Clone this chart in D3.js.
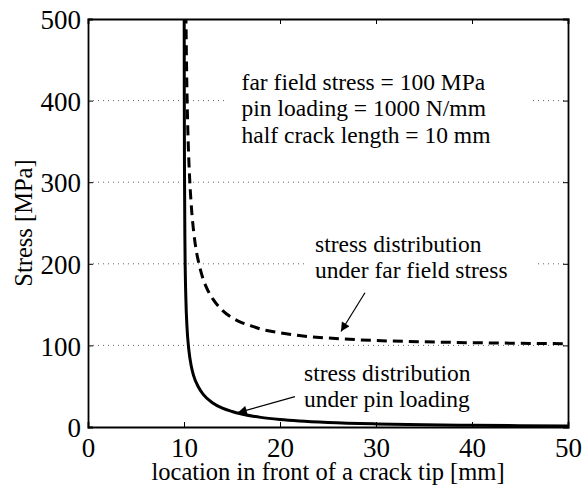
<!DOCTYPE html>
<html>
<head>
<meta charset="utf-8">
<script src="https://cdn.jsdelivr.net/npm/d3@7"></script>
<style>
  body { margin: 0; background: #fff; }
  text { font-family: "Liberation Serif", "Times New Roman", serif; fill: #000; }
</style>
</head>
<body>
<svg id="grafica"></svg>
<script>
// Esfuerzo delante de la punta de una grieta
const svg_w = 583;
const svg_h = 488;
const margin = {l:88, r:15, t:19, b:61};
const viz_w = svg_w - margin.l - margin.r;
const viz_h = svg_h - margin.t - margin.b;

// datos
const x_ticks = [0, 10, 20, 30, 40, 50];
const y_ticks = [0, 100, 200, 300, 400, 500];
const grid_y = [100, 200, 300, 400];

// esfuerzo bajo carga lejana (línea discontinua)
const far_x = [10.2, 10.25, 10.3, 10.4, 10.5, 10.6, 10.8, 11, 11.25, 11.5, 12, 12.5, 13, 14, 15, 16, 17, 18, 20, 22, 25, 28, 30, 35, 40, 45, 50];
const far_y = [507, 456, 417, 364, 328, 302, 265, 240, 218, 203, 181, 167, 157, 143, 134, 128, 124, 120, 115.5, 112, 109, 107, 106, 104.4, 103.3, 102.6, 102.1];

// esfuerzo bajo carga de pasador (línea continua)
const pin_x = [10.02, 10.03, 10.05, 10.1, 10.2, 10.3, 10.5, 10.75, 11, 11.5, 12, 13, 14, 15, 16, 18, 20, 22, 25, 30, 35, 40, 45, 50];
const pin_y = [502, 409, 316, 222, 155, 125, 95, 75, 63, 49, 40, 29.5, 23, 19, 16, 11.8, 9.2, 7.4, 5.6, 3.8, 2.7, 2.1, 1.6, 1.3];

const info_lines = ["far field stress = 100 MPa", "pin loading = 1000 N/mm", "half crack length = 10 mm"];
const far_label = ["stress distribution", "under far field stress"];
const pin_label = ["stress distribution", "under pin loading"];

let svg = d3.select("#grafica")
  .attr("width", svg_w)
  .attr("height", svg_h)

let x_scale = d3.scaleLinear().domain([0, 50]).range([0, viz_w]);
let y_scale = d3.scaleLinear().domain([0, 500]).range([viz_h, 0]);

let g = svg.append("g")
  .attr("transform", `translate(${margin.l},${margin.t})`)

svg.append("defs").append("clipPath").attr("id", "recorte")
  .append("rect").attr("width", viz_w).attr("height", viz_h)

svg.select("defs").append("marker")
  .attr("id", "flecha")
  .attr("viewBox", "0 0 10 10")
  .attr("refX", 10).attr("refY", 5)
  .attr("markerWidth", 11).attr("markerHeight", 9)
  .attr("markerUnits", "userSpaceOnUse")
  .attr("orient", "auto")
  .append("path").attr("d", "M0,0 L10,5 L0,10 z").attr("fill", "#000")

// rejilla horizontal punteada
g.append("g")
  .selectAll("line")
  .data(grid_y)
  .enter().append("line")
  .attr("x1", 0).attr("x2", viz_w)
  .attr("y1", d => y_scale(d)).attr("y2", d => y_scale(d))
  .attr("stroke", "#666")
  .attr("stroke-width", 1)
  .attr("stroke-dasharray", "1,4")

// recuadros blancos detrás de los textos
function text_block(lines, x, y, boxed, padl, padr) {
  let grp = g.append("g");
  let t = grp.append("text")
    .attr("x", x_scale(x)).attr("y", y_scale(y))
    .attr("font-size", 23.5)
  t.selectAll("tspan").data(lines).enter().append("tspan")
    .attr("x", x_scale(x))
    .attr("dy", (d, i) => i == 0 ? 0 : 26.5)
    .text(d => d)
  if (boxed) {
    let bb = t.node().getBBox();
    grp.insert("rect", "text")
      .attr("x", bb.x - padl).attr("y", bb.y - 4)
      .attr("width", bb.width + padl + padr).attr("height", bb.height + 8)
      .attr("fill", "#fff")
  }
}

text_block(info_lines, 16.0, 413.5, true, 14, 42);
text_block(far_label, 23.65, 214.5, true, 10, 30);

// curvas
let line = d3.line()
  .x(d => x_scale(d[0]))
  .y(d => y_scale(d[1]))
  .curve(d3.curveMonotoneX)

let curvas = g.append("g").attr("clip-path", "url(#recorte)")

curvas.append("path")
  .datum(far_x.map((d, i) => [d, far_y[i]]))
  .attr("d", line)
  .attr("fill", "none")
  .attr("stroke", "#000")
  .attr("stroke-width", 3)
  .attr("stroke-dasharray", "10,6")

curvas.append("path")
  .datum(pin_x.map((d, i) => [d, pin_y[i]]))
  .attr("d", line)
  .attr("fill", "none")
  .attr("stroke", "#000")
  .attr("stroke-width", 3)

text_block(pin_label, 22.5, 56.8, false, 0, 0);

// flechas
const arrows = [
  {x1: 28.85, y1: 164.5, x2: 26.35, y2: 117},
  {x1: 21.56, y1: 37.2, x2: 15.6, y2: 17.6}
];
g.append("g")
  .selectAll("line")
  .data(arrows)
  .enter().append("line")
  .attr("x1", d => x_scale(d.x1)).attr("y1", d => y_scale(d.y1))
  .attr("x2", d => x_scale(d.x2)).attr("y2", d => y_scale(d.y2))
  .attr("stroke", "#000")
  .attr("stroke-width", 1.2)
  .attr("marker-end", "url(#flecha)")

// ejes
let ax_b = g.append("g")
  .attr("transform", `translate(0,${viz_h})`)
  .call(d3.axisBottom(x_scale).tickValues(x_ticks).tickSize(-5).tickPadding(11))
let ax_l = g.append("g")
  .call(d3.axisLeft(y_scale).tickValues(y_ticks).tickSize(-5).tickPadding(7))
let ax_t = g.append("g")
  .call(d3.axisTop(x_scale).tickValues(x_ticks).tickSize(-5).tickFormat(""))
let ax_r = g.append("g")
  .attr("transform", `translate(${viz_w},0)`)
  .call(d3.axisRight(y_scale).tickValues(y_ticks).tickSize(-5).tickFormat(""))

for (let ax of [ax_b, ax_l, ax_t, ax_r]) {
  ax.select(".domain").attr("stroke", "#000").attr("stroke-width", 1.8)
  ax.selectAll(".tick line").attr("stroke", "#000").attr("stroke-width", 1)
  ax.selectAll(".tick text")
    .attr("font-family", "Liberation Serif, Times New Roman, serif")
    .attr("font-size", 27)
    .attr("fill", "#000")
}
ax_l.selectAll(".tick text").attr("dy", "0.36em")

// títulos de los ejes
svg.append("text")
  .attr("x", margin.l + viz_w / 2)
  .attr("y", 480)
  .attr("text-anchor", "middle")
  .attr("font-size", 24.5)
  .text("location in front of a crack tip [mm]")

svg.append("text")
  .attr("transform", `translate(32,${margin.t + viz_h / 2}) rotate(-90)`)
  .attr("text-anchor", "middle")
  .attr("font-size", 24.5)
  .text("Stress [MPa]")
</script>
</body>
</html>
